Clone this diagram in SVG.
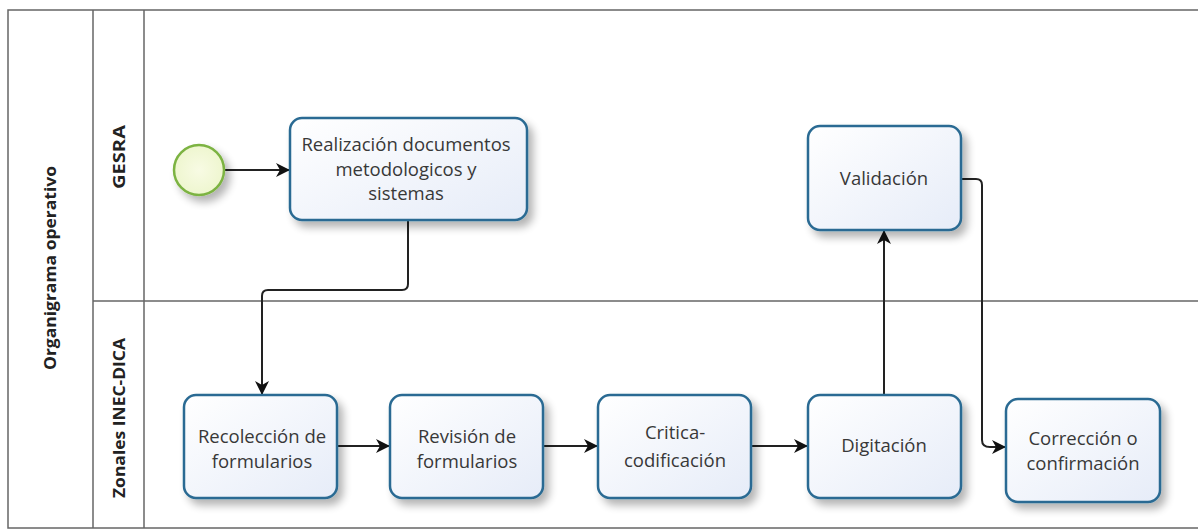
<svg xmlns="http://www.w3.org/2000/svg" width="1198" height="532" viewBox="0 0 1198 532">
<defs>
<linearGradient id="g" x1="0" y1="0" x2="1" y2="1">
<stop offset="0" stop-color="#ffffff"/>
<stop offset="1" stop-color="#e6ecf8"/>
</linearGradient>
<radialGradient id="sg" cx="0.5" cy="0.5" r="0.5">
<stop offset="0" stop-color="#f8fbe4"/>
<stop offset="1" stop-color="#eef6cf"/>
</radialGradient>
<filter id="sh" x="-20%" y="-20%" width="150%" height="150%">
<feGaussianBlur in="SourceAlpha" stdDeviation="4"/>
<feOffset dx="5" dy="6" result="b"/>
<feComponentTransfer><feFuncA type="linear" slope="0.3"/></feComponentTransfer>
<feMerge><feMergeNode/><feMergeNode in="SourceGraphic"/></feMerge>
</filter>
<marker id="arr" viewBox="0 0 14 14" refX="13" refY="7" markerWidth="14" markerHeight="14" markerUnits="userSpaceOnUse" orient="auto">
<path d="M0,0 L14,7 L0,14 L4,7 Z" fill="#111"/>
</marker>
</defs>
<style>
.box{fill:url(#g);stroke:#2a6b93;stroke-width:2.5;filter:url(#sh)}
.t{font-family:"Open Sans","Noto Sans",sans-serif;font-size:18.5px;fill:#383838;text-anchor:middle}
.lane{font-family:"Open Sans","Liberation Sans",sans-serif;font-size:16px;font-weight:bold;fill:#222;text-anchor:middle}
.c{fill:none;stroke:#222;stroke-width:2;marker-end:url(#arr)}
.ln{fill:none;stroke:#666;stroke-width:1.5}
</style>
<rect width="1198" height="532" fill="#ffffff"/>
<g id="pool">
<rect x="8" y="10" width="1192" height="518" class="ln" stroke="#555"/>
<line x1="93" y1="10" x2="93" y2="528" class="ln"/>
<line x1="144" y1="10" x2="144" y2="528" class="ln"/>
<line x1="93" y1="301" x2="1198" y2="301" class="ln"/>
<text class="lane" transform="translate(56,268) rotate(-90)" textLength="204" lengthAdjust="spacingAndGlyphs">Organigrama operativo</text>
<text class="lane" transform="translate(125,157) rotate(-90)" textLength="64" lengthAdjust="spacingAndGlyphs">GESRA</text>
<text class="lane" transform="translate(125,418) rotate(-90)" textLength="160" lengthAdjust="spacingAndGlyphs">Zonales INEC-DICA</text>
</g>
<g id="connectors">
<path class="c" d="M224,170 L289,170"/>
<path class="c" d="M408,221 L408,284 Q408,290 402,290 L268,290 Q262,290 262,296 L262,394"/>
<path class="c" d="M337,446 L389,446"/>
<path class="c" d="M543,446 L597,446"/>
<path class="c" d="M751,446 L807,446"/>
<path class="c" d="M884,395 L884,231"/>
<path class="c" d="M961,179 L976,179 Q982,179 982,185 L982,440 Q982,447 990,447 L1005,447"/>
</g>
<g id="start">
<circle cx="199" cy="170" r="25" fill="url(#sg)" stroke="#7cb342" stroke-width="2.5" filter="url(#sh)"/>
</g>
<g id="realizacion">
<rect class="box" x="290" y="118" width="237" height="102" rx="12"/>
<text class="t" x="406" y="151">Realización documentos</text>
<text class="t" x="406" y="176">metodologicos y</text>
<text class="t" x="406" y="200">sistemas</text>
</g>
<g id="validacion">
<rect class="box" x="808" y="126" width="153" height="104" rx="12"/>
<text class="t" x="884" y="185">Validación</text>
</g>
<g id="recoleccion">
<rect class="box" x="184" y="395" width="153" height="103" rx="12"/>
<text class="t" x="262" y="443">Recolección de</text>
<text class="t" x="262" y="468">formularios</text>
</g>
<g id="revision">
<rect class="box" x="390" y="395" width="153" height="103" rx="12"/>
<text class="t" x="467" y="443">Revisión de</text>
<text class="t" x="467" y="468">formularios</text>
</g>
<g id="critica">
<rect class="box" x="598" y="395" width="153" height="103" rx="12"/>
<text class="t" x="675" y="439">Critica-</text>
<text class="t" x="675" y="467">codificación</text>
</g>
<g id="digitacion">
<rect class="box" x="808" y="395" width="153" height="103" rx="12"/>
<text class="t" x="884" y="452">Digitación</text>
</g>
<g id="correccion">
<rect class="box" x="1006" y="399" width="154" height="103" rx="12"/>
<text class="t" x="1083" y="445">Corrección o</text>
<text class="t" x="1083" y="470">confirmación</text>
</g>
</svg>
